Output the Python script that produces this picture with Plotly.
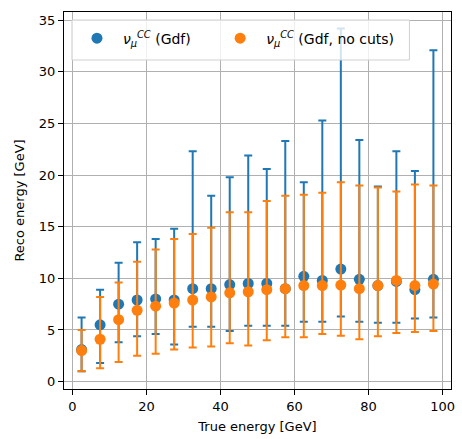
import numpy as np
import plotly.graph_objects as go

# True-energy bin centres [GeV]
true_energy = [2.5, 7.5, 12.5, 17.5, 22.5, 27.5, 32.5, 37.5, 42.5, 47.5,
               52.5, 57.5, 62.5, 67.5, 72.5, 77.5, 82.5, 87.5, 92.5, 97.5]

# nu_mu CC (Gdf): central value, upper and lower band edge
gdf_mid = [3.1, 5.5, 7.5, 7.9, 8.0, 7.9, 9.0, 9.0, 9.4, 9.5,
           9.5, 9.0, 10.2, 9.8, 10.9, 9.9, 9.3, 9.7, 8.9, 9.9]
gdf_hi = [6.2, 8.9, 11.5, 13.5, 13.8, 14.8, 22.3, 18.0, 19.8, 21.9,
          20.6, 23.3, 19.3, 25.3, 34.2, 23.4, 18.9, 22.3, 20.4, 32.1]
gdf_lo = [1.0, 1.8, 3.8, 4.4, 4.6, 3.6, 5.3, 5.3, 4.9, 5.4,
          5.4, 5.4, 5.8, 5.8, 6.3, 5.8, 5.7, 5.7, 6.1, 6.2]

# nu_mu CC (Gdf, no cuts)
nocut_mid = [3.0, 4.1, 6.0, 6.9, 7.3, 7.6, 7.9, 8.2, 8.6, 8.7,
             8.9, 9.0, 9.3, 9.3, 9.35, 9.0, 9.3, 9.8, 9.3, 9.45]
nocut_hi = [5.0, 8.2, 9.6, 11.6, 12.8, 13.8, 14.3, 14.9, 16.4, 16.4,
            17.5, 18.0, 18.1, 18.3, 19.3, 19.0, 18.8, 18.4, 19.1, 19.0]
nocut_lo = [1.0, 1.3, 1.9, 2.5, 2.7, 3.1, 3.3, 3.4, 3.7, 3.5,
            4.0, 4.3, 4.3, 4.6, 4.45, 4.1, 4.4, 4.7, 4.8, 4.9]

x_ticks = [0, 20, 40, 60, 80, 100]
y_ticks = [0, 5, 10, 15, 20, 25, 30, 35]

BLUE = "#1f77b4"
ORANGE = "#ff7f0e"


def trace(mid, hi, lo, color, name, legend):
    mid = np.array(mid)
    return go.Scatter(
        x=true_energy, y=mid, mode="markers", name=name, legend=legend,
        marker=dict(color=color, size=11),
        error_y=dict(type="data", symmetric=False,
                     array=np.array(hi) - mid,
                     arrayminus=mid - np.array(lo),
                     color=color, thickness=2, width=4),
    )


fig = go.Figure()
fig.add_trace(trace(gdf_mid, gdf_hi, gdf_lo, BLUE,
                    "<i>ν</i><sub><i>μ</i></sub><sup><i>CC</i></sup> (Gdf)", "legend"))
fig.add_trace(trace(nocut_mid, nocut_hi, nocut_lo, ORANGE,
                    "<i>ν</i><sub><i>μ</i></sub><sup><i>CC</i></sup> (Gdf, no cuts)", "legend2"))

axis_common = dict(
    showgrid=True, gridcolor="#b0b0b0", gridwidth=1,
    showline=True, linecolor="black", linewidth=1, mirror=True,
    ticks="outside", ticklen=5, tickcolor="black",
    zeroline=False,
    tickfont=dict(family="DejaVu Sans", size=13, color="black"),
    title_font=dict(family="DejaVu Sans", size=13, color="black"),
)

leg_common = dict(orientation="h", yanchor="top", xanchor="left",
                  bgcolor="rgba(0,0,0,0)", borderwidth=0,
                  font=dict(family="DejaVu Sans", size=14, color="black"),
                  itemwidth=42)

fig.update_layout(
    width=462, height=439,
    margin=dict(l=64, r=7, t=12, b=50),
    paper_bgcolor="white", plot_bgcolor="white",
    font=dict(family="DejaVu Sans", size=13, color="black"),
    xaxis=dict(range=[-2.25, 102.25], tickvals=x_ticks,
               title=dict(text="True energy [GeV]", standoff=9), **axis_common),
    yaxis=dict(range=[-0.72, 35.8], tickvals=y_ticks,
               title=dict(text="Reco energy [GeV]", standoff=11), **axis_common),
    showlegend=True,
    legend=dict(x=0.018, y=0.972, **leg_common),
    legend2=dict(x=0.388, y=0.972, **leg_common),
    shapes=[dict(type="rect", xref="paper", yref="paper", layer="above",
                 x0=0.0205, x1=0.8926, y0=0.8727, y1=0.9788,
                 fillcolor="rgba(255,255,255,0.8)",
                 line=dict(color="#d0d0d0", width=1))],
)

fig.write_html("out.html")
